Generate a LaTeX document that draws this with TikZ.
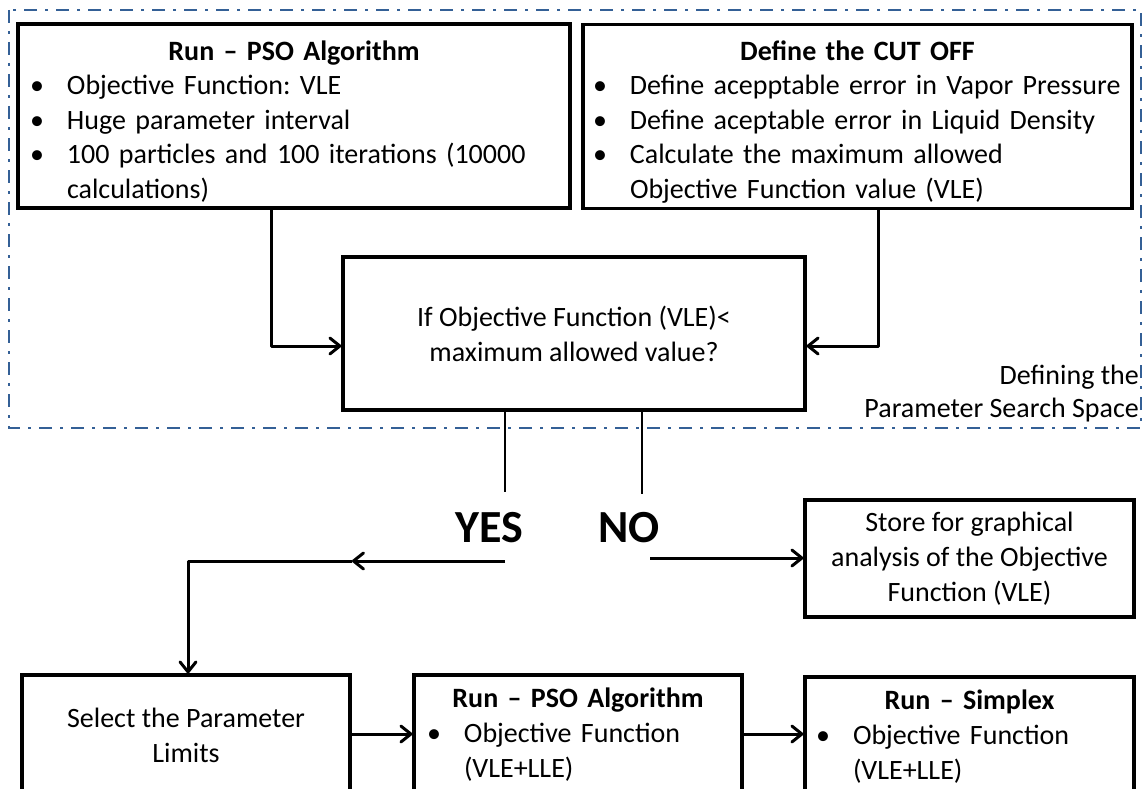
\documentclass[tikz,border=0pt]{standalone}
\usepackage{fontspec}
\setmainfont{Carlito}
\usetikzlibrary{arrows.meta}

\definecolor{frameblue}{RGB}{52,96,150}

% bullet line with hanging indent, and a centred bold heading line
\newcommand{\nl}{\hfil\break}
\newcommand{\bul}[1]{\par\noindent\hangindent=32pt\hangafter=1\makebox[32pt][l]{\hspace{-5pt}\textbullet}#1\par}
\newcommand{\ttl}[2][0pt]{\noindent\makebox[\hsize]{\rule{0pt}{#1}\bfseries #2}\par}
\newcommand{\listtext}{\frenchspacing\leftskip=0pt\rightskip=0pt plus 1fil\parfillskip=0pt plus 1fil}

\tikzset{
  panel/.style={draw=black, line width=3.2pt, inner sep=0pt,
                font=\fontsize{28}{35}\selectfont},
  link/.style={draw=black, line width=3pt, line join=round},
  thinlink/.style={draw=black, line width=2pt},
  tip/.style={-{Straight Barb[length=10pt,width=16pt,round]}},
  zone/.style={draw=frameblue, line width=2.2pt,
               dash pattern=on 13pt off 8pt on 3pt off 8pt},
}

\begin{document}
\begin{tikzpicture}[x=1pt,y=-1pt]
\useasboundingbox (0,0) rectangle (1145,789);
\clip (0,0) rectangle (1145,789);

% search-space frame
\draw[zone] (9,10) rectangle (1141,428);
\node[anchor=east, inner sep=0pt, align=right,
      font=\fontsize{28}{33}\selectfont] (zonelabel) at (1139,394)
      {Defining the\\Parameter Search Space};

% upper boxes
\node[panel, minimum width=552pt, minimum height=184pt, text width=518pt,
      font=\fontsize{28}{34.5}\selectfont]
  (pso1) at (294,116)
  {\listtext
   \ttl[30pt]{Run – PSO Algorithm}%
   \bul{Objective Function: VLE}%
   \bul{Huge parameter interval}%
   \bul{\mbox{100 particles and 100 iterations (10000}\nl calculations)}};

\node[panel, minimum width=549pt, minimum height=184pt, text width=519pt,
      font=\fontsize{28}{34.5}\selectfont]
  (cut) at (857.5,116.5)
  {\listtext
   \ttl[30pt]{Define the CUT OFF}%
   \bul{\mbox{Define acepptable error in Vapor Pressure}}%
   \bul{\mbox{Define aceptable error in Liquid Density}}%
   \bul{\mbox{Calculate the maximum allowed}\nl\mbox{Objective Function value (VLE)}}};

\node[panel, minimum width=462pt, minimum height=153pt, align=center]
  (test) at (574,333.5) {If Objective Function (VLE)<\\maximum allowed value?};

% inputs of the test
\coordinate (inL) at (271,346);
\coordinate (inR) at (878,346);
\draw[link,tip] (pso1.south -| inL) -- (inL) -- (test.west |- inL);
\draw[link,tip] (cut.south -| inR) -- (inR) -- (test.east |- inR);

% outcomes
\coordinate (yend) at (505,492);
\coordinate (nend) at (642,494);
\draw[thinlink] (test.south -| yend) -- (yend);
\draw[thinlink] (test.south -| nend) -- (nend);

\node[inner sep=0pt, font=\bfseries\fontsize{46}{46}\selectfont] (yes) at (489,528) {YES};
\node[inner sep=0pt, font=\bfseries\fontsize{46}{46}\selectfont] (no) at (629,528) {NO};

\node[panel, minimum width=329pt, minimum height=117pt, align=center]
  (store) at (969.5,558.5) {Store for graphical\\analysis of the Objective\\Function (VLE)};

% lower row
\node[panel, minimum width=328pt, minimum height=120pt, align=center]
  (limits) at (186,735) {Select the Parameter\\Limits};

\node[panel, minimum width=328pt, minimum height=120pt, text width=292pt]
  (pso2) at (578,735)
  {\listtext
   \ttl{Run – PSO Algorithm}%
   \bul{Objective Function\nl (VLE+LLE)}};

\node[panel, minimum width=329pt, minimum height=120pt, text width=297pt]
  (simplex) at (969.5,737)
  {\listtext
   \ttl{Run – Simplex}%
   \bul{Objective Function\nl (VLE+LLE)}};

% yes branch
\coordinate (ya) at (505,561);
\coordinate (ymid) at (352,561);
\coordinate (ycorner) at (188,561);
\draw[link,tip] (ya) -- (ymid);
\draw[link,tip] (ymid) -- (ycorner) -- (limits.north -| ycorner);

% no branch
\coordinate (na) at (650,558);
\draw[link,tip] (na) -- (store.west |- na);

% chain along the bottom
\coordinate (row) at (0,734);
\draw[link,tip] (limits.east |- row) -- (pso2.west |- row);
\draw[link,tip] (pso2.east |- row) -- (simplex.west |- row);
\end{tikzpicture}
\end{document}
